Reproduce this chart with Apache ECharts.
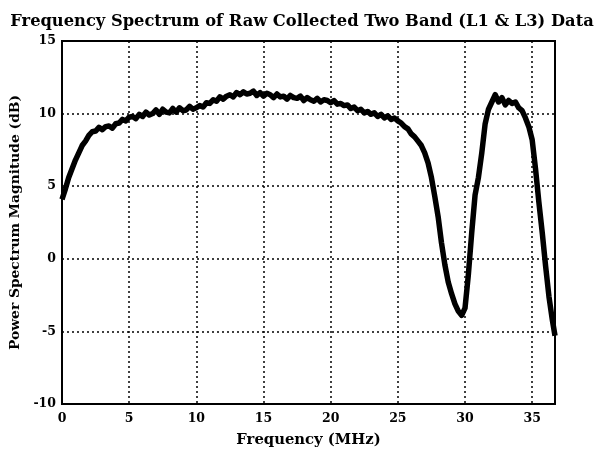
<!DOCTYPE html>
<html>
<head>
<meta charset="utf-8">
<script src="https://cdn.jsdelivr.net/npm/echarts@6/dist/echarts.min.js"></script>
<style>
  html, body { margin: 0; padding: 0; background: #fff; }
</style>
</head>
<body>
<div id="main" style="width: 604px;height: 453px"></div>
<script type="text/javascript">
    // 频率 (MHz)
    var freq = [
        0.00, 0.25, 0.50, 0.75, 1.00, 1.25, 1.50, 1.75, 2.00, 2.25, 2.50, 2.75,
        3.00, 3.25, 3.50, 3.75, 4.00, 4.25, 4.50, 4.75, 5.00, 5.25, 5.50, 5.75,
        6.00, 6.25, 6.50, 6.75, 7.00, 7.25, 7.50, 7.75, 8.00, 8.25, 8.50, 8.75,
        9.00, 9.25, 9.50, 9.75, 10.00, 10.25, 10.50, 10.75, 11.00, 11.25, 11.50, 11.75,
        12.00, 12.25, 12.50, 12.75, 13.00, 13.25, 13.50, 13.75, 14.00, 14.25, 14.50, 14.75,
        15.00, 15.25, 15.50, 15.75, 16.00, 16.25, 16.50, 16.75, 17.00, 17.25, 17.50, 17.75,
        18.00, 18.25, 18.50, 18.75, 19.00, 19.25, 19.50, 19.75, 20.00, 20.25, 20.50, 20.75,
        21.00, 21.25, 21.50, 21.75, 22.00, 22.25, 22.50, 22.75, 23.00, 23.25, 23.50, 23.75,
        24.00, 24.25, 24.50, 24.75, 25.00, 25.25, 25.50, 25.75, 26.00, 26.25, 26.50, 26.75,
        27.00, 27.25, 27.50, 27.75, 28.00, 28.25, 28.50, 28.75, 29.00, 29.25, 29.50, 29.75,
        30.00, 30.25, 30.50, 30.75, 31.00, 31.25, 31.50, 31.75, 32.00, 32.25, 32.50, 32.75,
        33.00, 33.25, 33.50, 33.75, 34.00, 34.25, 34.50, 34.75, 35.00, 35.25, 35.50, 35.75,
        36.00, 36.25, 36.50, 36.70
    ];
    // 功率谱幅度 (dB)
    var power = [
        4.1, 4.8, 5.6, 6.2, 6.8, 7.3, 7.8, 8.1, 8.5, 8.75, 8.8, 9.05,
        8.9, 9.1, 9.15, 9.0, 9.3, 9.35, 9.6, 9.5, 9.75, 9.8, 9.65, 9.95,
        9.8, 10.1, 9.9, 10.0, 10.25, 9.95, 10.3, 10.1, 10.05, 10.35, 10.1, 10.4,
        10.2, 10.25, 10.5, 10.3, 10.4, 10.55, 10.45, 10.75, 10.7, 10.95, 10.85, 11.15,
        11.0, 11.2, 11.3, 11.15, 11.45, 11.3, 11.5, 11.35, 11.4, 11.55, 11.25, 11.45,
        11.2, 11.4, 11.3, 11.1, 11.35, 11.15, 11.2, 11.0, 11.25, 11.1, 11.05, 11.2,
        10.9, 11.1, 10.95, 10.85, 11.05, 10.8, 10.95, 10.9, 10.75, 10.9, 10.65, 10.7,
        10.55, 10.6, 10.35, 10.45, 10.2, 10.3, 10.05, 10.15, 9.95, 10.05, 9.8, 9.95,
        9.7, 9.85, 9.6, 9.7, 9.5, 9.35, 9.1, 8.95, 8.6, 8.4, 8.1, 7.8,
        7.3, 6.6, 5.6, 4.3, 2.9, 1.1, -0.4, -1.6, -2.4, -3.1, -3.6, -3.9,
        -3.4, -1.1, 1.8, 4.4, 5.6, 7.3, 9.3, 10.3, 10.8, 11.3, 10.8, 11.1,
        10.6, 10.9, 10.7, 10.8, 10.4, 10.2, 9.7, 9.1, 8.2, 6.2, 3.9, 1.8,
        -0.5, -2.6, -4.2, -5.3
    ];
    var xTicks = [0, 5, 10, 15, 20, 25, 30, 35];
    var yTicks = [-10, -5, 0, 5, 10, 15];

    var seriesData = freq.map(function (f, i) { return [f, power[i]]; });
    var serif = 'DejaVu Serif';

    var myChart = echarts.init(document.getElementById('main'));

    var option = {
        backgroundColor: '#fff',
        animation: false,
        title: {
            text: 'Frequency Spectrum of Raw Collected Two Band (L1 & L3) Data',
            left: 'center',
            top: 9,
            textStyle: { fontFamily: serif, fontWeight: 'bold', fontSize: 16.3, color: '#000' }
        },
        grid: {
            left: 62, right: 49, top: 41, bottom: 40,
            show: true, borderColor: '#000', borderWidth: 2,
            backgroundColor: 'transparent'
        },
        xAxis: {
            type: 'value',
            min: xTicks[0],
            max: 36.7,
            interval: 5,
            name: 'Frequency (MHz)',
            nameLocation: 'middle',
            nameGap: 29,
            nameTextStyle: { fontFamily: serif, fontWeight: 'bold', fontSize: 14.8, color: '#000' },
            axisLine: { show: false },
            axisTick: { show: false },
            axisLabel: {
                fontFamily: serif, fontWeight: 'bold', fontSize: 12.5, color: '#000',
                margin: 8, showMaxLabel: false
            },
            splitLine: { show: true, lineStyle: { color: '#000', type: [2, 3], width: 1.5 } }
        },
        yAxis: {
            type: 'value',
            min: yTicks[0],
            max: yTicks[yTicks.length - 1],
            interval: 5,
            name: 'Power Spectrum Magnitude (dB)',
            nameLocation: 'middle',
            nameGap: 30,
            nameTextStyle: { fontFamily: serif, fontWeight: 'bold', fontSize: 13.8, color: '#000' },
            axisLine: { show: false },
            axisTick: { show: false },
            axisLabel: {
                fontFamily: serif, fontWeight: 'bold', fontSize: 12.5, color: '#000', margin: 6
            },
            splitLine: { show: true, lineStyle: { color: '#000', type: [2, 3], width: 1.5 } }
        },
        series: [{
            name: 'Power',
            type: 'line',
            data: seriesData,
            showSymbol: false,
            lineStyle: { color: '#000', width: 5.5, join: 'round' },
            z: 3
        }]
    };

    myChart.setOption(option);
</script>
</body>
</html>
